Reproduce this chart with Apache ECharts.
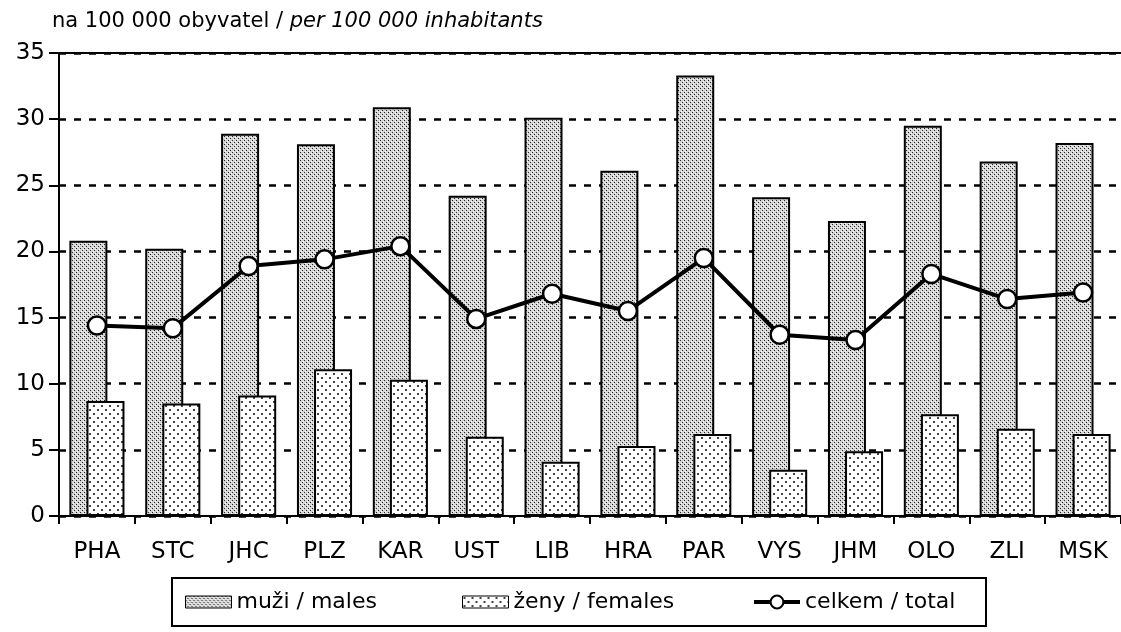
<!DOCTYPE html>
<html>
<head>
<meta charset="utf-8">
<script src="https://cdn.jsdelivr.net/npm/echarts@6/dist/echarts.min.js"></script>
<style>
  html, body { margin: 0; padding: 0; background: #fff; }
  #chart { width: 1121px; height: 632px; }
</style>
</head>
<body>
<div id="chart"></div>
<script>
const categories = ['PHA', 'STC', 'JHC', 'PLZ', 'KAR', 'UST', 'LIB', 'HRA', 'PAR', 'VYS', 'JHM', 'OLO', 'ZLI', 'MSK']
const males = [20.8, 20.2, 28.9, 28.1, 30.9, 24.2, 30.1, 26.1, 33.3, 24.1, 22.3, 29.5, 26.8, 28.2]
const females = [8.7, 8.5, 9.1, 11.1, 10.3, 6.0, 4.1, 5.3, 6.2, 3.5, 4.9, 7.7, 6.6, 6.2]
const total = [14.4, 14.2, 18.9, 19.4, 20.4, 14.9, 16.8, 15.5, 19.5, 13.7, 13.3, 18.3, 16.4, 16.9]

const font = 'DejaVu Sans'

// dense dot fill for males
function densePattern() {
  const c = document.createElement('canvas')
  c.width = 4
  c.height = 4
  const ctx = c.getContext('2d')
  ctx.fillStyle = '#d4d4d4'
  ctx.fillRect(0, 0, 4, 4)
  ctx.fillStyle = '#222'
  ctx.fillRect(0, 0, 1, 1)
  ctx.fillRect(2, 2, 1, 1)
  ctx.fillStyle = '#fff'
  ctx.fillRect(1, 3, 1, 1)
  ctx.fillRect(3, 1, 1, 1)
  return c
}

// sparse dot fill for females
function sparsePattern() {
  const c = document.createElement('canvas')
  c.width = 8
  c.height = 8
  const ctx = c.getContext('2d')
  ctx.fillStyle = '#fff'
  ctx.fillRect(0, 0, 8, 8)
  ctx.fillStyle = '#444'
  ctx.fillRect(1, 1, 2, 2)
  ctx.fillRect(5, 5, 2, 2)
  return c
}

const maleFill = { image: densePattern(), repeat: 'repeat' }
const femaleFill = { image: sparsePattern(), repeat: 'repeat' }

const legendBase = {
  top: 591,
  padding: 0,
  itemWidth: 46,
  itemHeight: 12,
  textStyle: { fontFamily: font, fontSize: 22, color: '#000' }
}

const chart = echarts.init(document.getElementById('chart'), null, { renderer: 'canvas' })

chart.setOption({
  animation: false,
  textStyle: { fontFamily: font, color: '#000' },
  title: {
    text: '{n|na 100 000 obyvatel / }{i|per 100 000 inhabitants}',
    left: 52,
    top: 11,
    padding: 0,
    textStyle: {
      rich: {
        n: { fontFamily: font, fontSize: 21, color: '#000', fontWeight: 'normal' },
        i: { fontFamily: font, fontSize: 21, color: '#000', fontWeight: 'normal', fontStyle: 'italic' }
      }
    }
  },
  grid: {
    left: 59,
    top: 53,
    width: 1068,
    height: 463
  },
  graphic: [
    {
      type: 'rect',
      shape: { x: 172, y: 578, width: 814, height: 48 },
      style: { fill: 'none', stroke: '#000', lineWidth: 2 }
    }
  ],
  legend: [
    Object.assign({}, legendBase, {
      left: 185,
      icon: 'rect',
      itemStyle: { borderColor: '#000', borderWidth: 1 },
      data: ['muži / males']
    }),
    Object.assign({}, legendBase, {
      left: 462,
      icon: 'rect',
      itemStyle: { borderColor: '#000', borderWidth: 1 },
      data: ['ženy / females']
    }),
    Object.assign({}, legendBase, {
      left: 752,
      itemHeight: 16,
      lineStyle: { width: 4, color: '#000' },
      data: ['celkem / total']
    })
  ],
  xAxis: [
    {
      type: 'category',
      data: categories,
      axisLine: { lineStyle: { color: '#000', width: 2 } },
      axisTick: { show: true, length: 8, lineStyle: { color: '#000', width: 2 } },
      axisLabel: { color: '#000', fontSize: 23, margin: 25, fontFamily: font },
      splitLine: { show: false }
    },
    {
      type: 'category',
      position: 'top',
      data: categories,
      axisLine: { lineStyle: { color: '#000', width: 2 } },
      axisTick: { show: false },
      axisLabel: { show: false }
    }
  ],
  yAxis: {
    type: 'value',
    min: 0,
    max: 35,
    interval: 5,
    axisLine: { show: true, lineStyle: { color: '#000', width: 2 } },
    axisTick: { show: true, length: 10, lineStyle: { color: '#000', width: 2 } },
    axisLabel: { color: '#000', fontSize: 23, margin: 14, fontFamily: font },
    splitLine: { show: true, lineStyle: { color: '#000', width: 2.5, type: [7, 8] } }
  },
  series: [
    {
      name: 'muži / males',
      type: 'bar',
      data: males,
      barWidth: 38,
      itemStyle: { color: maleFill, borderColor: '#000', borderWidth: 2 }
    },
    {
      name: 'ženy / females',
      type: 'bar',
      data: females,
      barWidth: 38,
      barGap: '-55%',
      itemStyle: { color: femaleFill, borderColor: '#000', borderWidth: 2 }
    },
    {
      name: 'celkem / total',
      type: 'line',
      data: total,
      z: 5,
      symbol: 'circle',
      symbolSize: 18,
      lineStyle: { color: '#000', width: 4 },
      itemStyle: { color: '#fff', borderColor: '#000', borderWidth: 2.5 }
    }
  ]
})
</script>
</body>
</html>
